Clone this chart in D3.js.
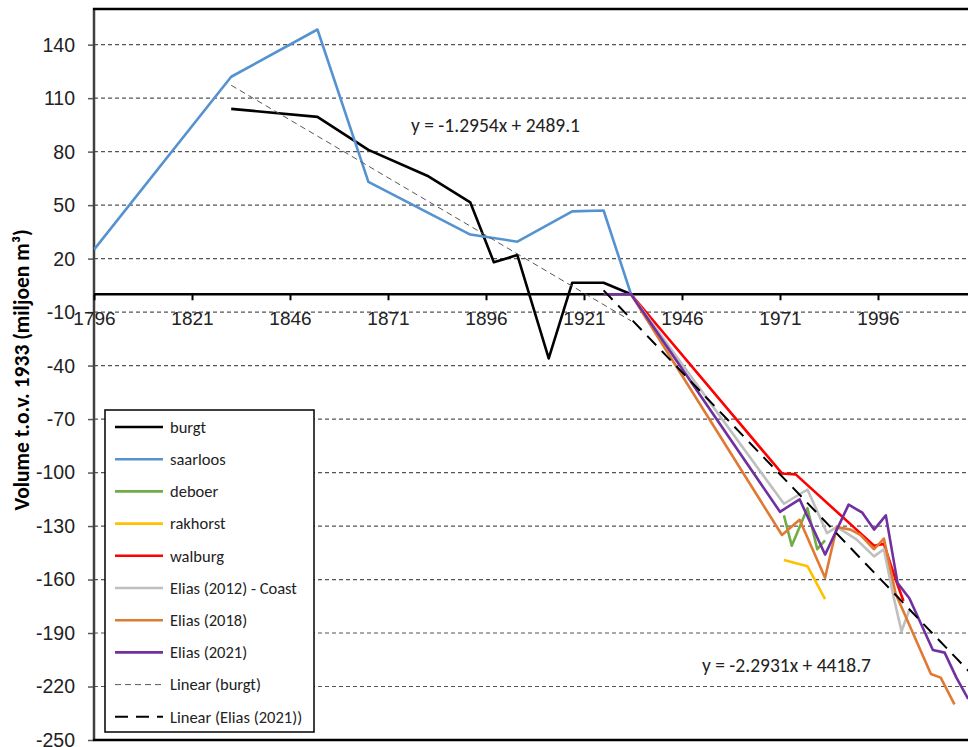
<!DOCTYPE html>
<html>
<head>
<meta charset="utf-8">
<script src="https://cdn.jsdelivr.net/npm/d3@7"></script>
<style>
  body { margin: 0; background: #fff; }
  svg { font-family: Carlito, Lato, "Open Sans", sans-serif; }
</style>
</head>
<body>
<script>
//series, [year, volume]
var burgt = [[1831,104],[1853,99.5],[1866,81],[1881,66.5],[1892,51.5],[1898,18],[1904,22],[1912,-36],[1918,6.5],[1926,6.5],[1933,0]];
var saarloos = [[1796,25],[1831,122],[1853,148.5],[1866,63],[1892,33.5],[1904,29.5],[1918,46.5],[1926,47],[1933,0]];
var deboer = [[1972,-124],[1974,-141],[1978,-120],[1980.5,-143],[1982.5,-138]];
var rakhorst = [[1972,-149],[1978,-152.5],[1982.5,-171]];
var walburg = [[1933,0],[1971.5,-100.5],[1975,-101],[1995,-141],[1997.5,-140],[2000.5,-160],[2002.5,-172]];
var elias2012 = [[1933,0],[1972,-117.5],[1978,-109.5],[1983,-134],[1985.5,-130.5],[1990.5,-137.5],[1995,-147],[1997.5,-143],[2000,-170],[2002,-189],[2004,-177]];
var elias2018 = [[1933,0],[1971.5,-135],[1976,-126.5],[1982.5,-159],[1985.5,-130.5],[1989,-132],[1991.5,-135],[1995,-143],[1997.5,-137],[2000.5,-168],[2009.5,-213],[2012,-215],[2015.5,-230]];
var elias2021 = [[1926,0],[1933,0],[1971,-122],[1976,-115],[1982.5,-146],[1988.5,-118],[1992,-122.5],[1995,-132],[1998,-124],[2001,-162],[2004,-170.5],[2010,-199.5],[2013,-201],[2016,-215],[2019,-227]];

//trendlines as printed on the chart: slope, intercept, fitted year range
var trendBurgt = {slope: -1.2954, intercept: 2489.1, from: 1831, to: 1933};
var trendElias = {slope: -2.2931, intercept: 4418.7, from: 1926, to: 2021};

var xTicks = [1796, 1821, 1846, 1871, 1896, 1921, 1946, 1971, 1996];
var yTicks = [140, 110, 80, 50, 20, -10, -40, -70, -100, -130, -160, -190, -220, -250];

var seriesNames = ["burgt", "saarloos", "deboer", "rakhorst", "walburg", "Elias (2012) - Coast", "Elias (2018)", "Elias (2021)"];
var seriesData = [burgt, saarloos, deboer, rakhorst, walburg, elias2012, elias2018, elias2021];
var seriesColors = ["#000000", "#5593d0", "#70ad47", "#ffc000", "#ff0000", "#bfbfbf", "#e07a33", "#7030a0"];

window.onload = drawChart();

function drawChart(){
    var width = 968, height = 747;
    var left = 94, right = 976, top = 9, bottom = 740;

    var svg = d3.select("body").append("svg")
        .attr("width", width)
        .attr("height", height);

    var x = d3.scaleLinear().domain([1796, 2021]).range([left, right]);
    var y = d3.scaleLinear().domain([-250, 160]).range([bottom, top]);

    svg.append("defs").append("clipPath").attr("id", "plot")
        .append("rect").attr("x", left).attr("y", top)
        .attr("width", width - left).attr("height", bottom - top);

    //dashed gridlines
    svg.selectAll(".grid")
        .data(yTicks)
        .enter().append("line")
        .attr("x1", left).attr("x2", width)
        .attr("y1", d => y(d)).attr("y2", d => y(d))
        .attr("stroke", "#555").attr("stroke-width", 1.2)
        .attr("stroke-dasharray", "4,3");

    //y axis (plain hyphen for negatives, like the original)
    var yAxis = svg.append("g")
        .attr("transform", "translate(" + left + ",0)")
        .call(d3.axisLeft(y).tickValues(yTicks).tickSize(6).tickFormat(d => String(d)));
    yAxis.select(".domain").remove();
    yAxis.selectAll(".tick line").attr("stroke", "#595959").attr("stroke-width", 1.5);
    yAxis.selectAll(".tick text")
        .attr("x", -19).attr("dy", "0.33em")
        .attr("font-size", 19.5).attr("fill", "#222").attr("font-family", null);

    svg.append("line")
        .attr("x1", left).attr("x2", left).attr("y1", top - 1).attr("y2", bottom + 1)
        .attr("stroke", "#404040").attr("stroke-width", 2.5);

    //x axis sits on the zero line
    var xAxis = svg.append("g")
        .attr("transform", "translate(0," + y(0) + ")")
        .call(d3.axisBottom(x).tickValues(xTicks).tickSize(6).tickFormat(d => String(d)));
    xAxis.select(".domain").remove();
    xAxis.selectAll(".tick line").attr("stroke", "#000").attr("stroke-width", 2);
    xAxis.selectAll(".tick text")
        .attr("y", 0).attr("dy", "1.6em")
        .attr("font-size", 19).attr("fill", "#222").attr("font-family", null);

    svg.append("line")
        .attr("x1", left).attr("x2", width).attr("y1", y(0)).attr("y2", y(0))
        .attr("stroke", "#000").attr("stroke-width", 2.5);

    //frame top and bottom
    svg.append("line").attr("x1", left - 1).attr("x2", width).attr("y1", top).attr("y2", top)
        .attr("stroke", "#000").attr("stroke-width", 2.5);
    svg.append("line").attr("x1", left - 1).attr("x2", width).attr("y1", bottom).attr("y2", bottom)
        .attr("stroke", "#000").attr("stroke-width", 2.5);

    var plot = svg.append("g").attr("clip-path", "url(#plot)");

    var line = d3.line().x(d => x(d[0])).y(d => y(d[1]));

    plot.selectAll(".series")
        .data(seriesData)
        .enter().append("path")
        .attr("class", "series")
        .attr("d", line)
        .attr("fill", "none")
        .attr("stroke", (d, i) => seriesColors[i])
        .attr("stroke-width", 2.6)
        .attr("stroke-linejoin", "round");

    //trendlines
    function trendPoints(t){
        return [[t.from, t.slope * t.from + t.intercept], [t.to, t.slope * t.to + t.intercept]];
    }
    plot.append("path")
        .attr("d", line(trendPoints(trendBurgt)))
        .attr("fill", "none").attr("stroke", "#595959").attr("stroke-width", 1)
        .attr("stroke-dasharray", "6,4");
    plot.append("path")
        .attr("d", line(trendPoints(trendElias)))
        .attr("fill", "none").attr("stroke", "#000").attr("stroke-width", 2)
        .attr("stroke-dasharray", "13,8");

    //trend equations
    function eqText(t){
        return "y = " + t.slope + "x + " + t.intercept.toFixed(1);
    }
    svg.append("text").attr("x", 411).attr("y", 132)
        .attr("font-size", 19.5).attr("fill", "#222").text(eqText(trendBurgt));
    svg.append("text").attr("x", 702).attr("y", 672)
        .attr("font-size", 19.5).attr("fill", "#222").text(eqText(trendElias));

    //y axis title
    svg.append("text")
        .attr("transform", "translate(29,370) rotate(-90)")
        .attr("text-anchor", "middle")
        .attr("font-size", 21.5).attr("font-weight", "bold").attr("fill", "#000")
        .text("Volume t.o.v. 1933 (miljoen m³)");

    //legend
    var lg = svg.append("g").attr("transform", "translate(105,410)");
    lg.append("rect").attr("width", 209).attr("height", 322)
        .attr("fill", "#fff").attr("stroke", "#000").attr("stroke-width", 1.5);

    var legendItems = seriesNames.map((n, i) => ({name: n, color: seriesColors[i], dash: null, w: 2.6}));
    legendItems.push({name: "Linear (burgt)", color: "#595959", dash: "6,4", w: 1});
    legendItems.push({name: "Linear (Elias (2021))", color: "#000", dash: "13,8", w: 2});

    var rows = lg.selectAll(".row")
        .data(legendItems)
        .enter().append("g")
        .attr("transform", (d, i) => "translate(0," + (17 + i * 32.2) + ")");
    rows.append("line")
        .attr("x1", 10).attr("x2", 58).attr("y1", 0).attr("y2", 0)
        .attr("stroke", d => d.color).attr("stroke-width", d => d.w)
        .attr("stroke-dasharray", d => d.dash);
    rows.append("text")
        .attr("x", 65).attr("dy", "0.35em")
        .attr("font-size", 16.5).attr("fill", "#222")
        .text(d => d.name);
}
</script>
</body>
</html>
